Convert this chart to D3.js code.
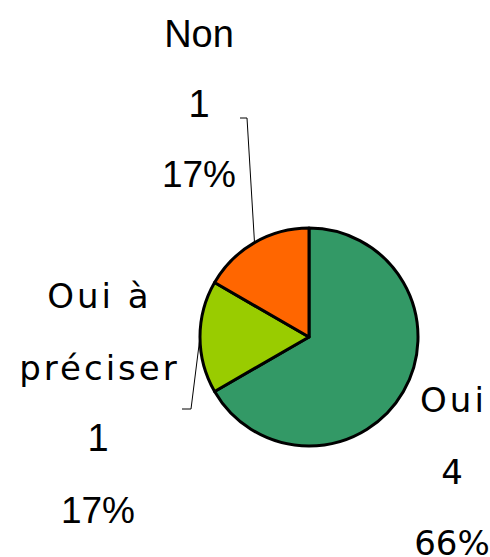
<!DOCTYPE html>
<html><head><meta charset="utf-8">
<script src="https://cdn.jsdelivr.net/npm/d3@7"></script>
<style>html,body{margin:0;padding:0;background:#fff;}svg{display:block;}</style>
</head><body>
<script>
const categories = ["Oui", "Oui à préciser", "Non"];
const values = [4, 1, 1];
const percentLabels = ["66%", "17%", "17%"];
const colors = ["#339966", "#99CC00", "#FF6600"];

const W = 490, H = 557;
const cx = 309, cy = 337, R = 109;

const svg = d3.select("body").append("svg").attr("width", W).attr("height", H);
const g = svg.append("g").attr("transform", `translate(${cx},${cy})`);

const pie = d3.pie().sort(null).value(d => d.v);
const arcs = pie(categories.map((c, i) => ({c, v: values[i], p: percentLabels[i], col: colors[i]})));
const arc = d3.arc().innerRadius(0).outerRadius(R);

g.selectAll("path").data(arcs).enter().append("path")
  .attr("d", arc).attr("fill", d => d.data.col)
  .attr("stroke", "#000").attr("stroke-width", 3).attr("stroke-linejoin", "round");

const ARIAL = "'Liberation Sans', Arial, sans-serif";
const DEJA = "'DejaVu Sans', Verdana, sans-serif";

// label layout (positions & styles only)
const layout = {
  "Oui": {x: 452, y0: 412, gap: 71.5, leader: null,
          styles: [[DEJA, 34, 3], [DEJA, 34, 0], [DEJA, 34, 0]]},
  "Oui à préciser": {x: 98, y0: 308, gap: 71.7, leader: [[182, 409], [191, 409]],
          styles: [[DEJA, 34, 3], [DEJA, 34, 3], [ARIAL, 38, 0], [ARIAL, 37, 0]]},
  "Non": {x: 199, y0: 47, gap: 70, leader: [[240, 118], [247, 118]],
          styles: [[ARIAL, 38, 0], [ARIAL, 38, 0], [ARIAL, 37, 0]]}
};

arcs.forEach(d => {
  const L = layout[d.data.c];
  const lines = d.data.c === "Oui à préciser"
    ? ["Oui à", "préciser", String(d.data.v), d.data.p]
    : [d.data.c, String(d.data.v), d.data.p];
  lines.forEach((s, i) => {
    const [ff, fs, ls] = L.styles[i];
    svg.append("text").attr("text-anchor", "middle")
      .attr("x", L.x + ls / 2).attr("y", L.y0 + i * L.gap)
      .attr("font-family", ff).attr("font-size", fs)
      .attr("letter-spacing", ls).attr("fill", "#000").text(s);
  });
  if (L.leader) {
    const mid = (d.startAngle + d.endAngle) / 2;
    const ex = cx + R * Math.sin(mid), ey = cy - R * Math.cos(mid);
    svg.append("polyline")
      .attr("points", [...L.leader, [ex, ey]].map(p => p.join(",")).join(" "))
      .attr("fill", "none").attr("stroke", "#000").attr("stroke-width", 1);
  }
});
</script>
</body></html>
